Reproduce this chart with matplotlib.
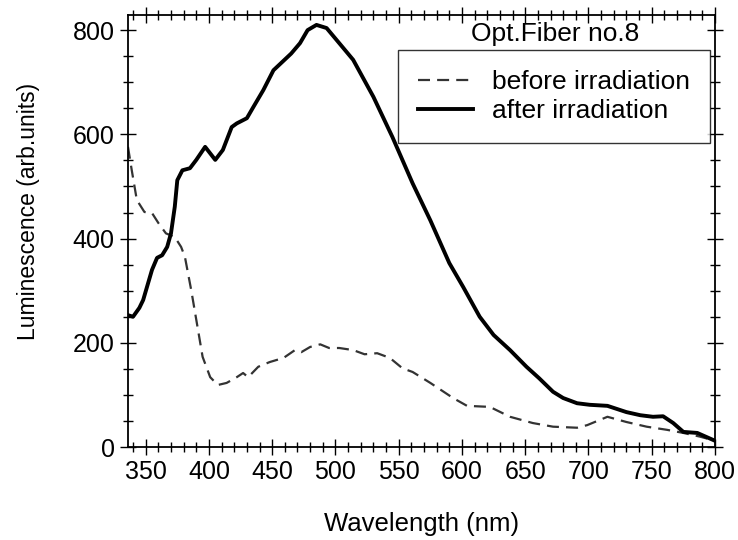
import numpy as np
import matplotlib.pyplot as plt
from matplotlib.ticker import MultipleLocator

plt.rcParams['font.family'] = ['Liberation Sans', 'DejaVu Sans']

# after irradiation (solid)
wl_after = [336, 340, 345, 348, 355, 359, 363, 367, 370, 373, 375, 379, 385, 390,
            397, 405, 411, 418, 422, 430, 435, 443, 451, 458, 465, 472, 478, 485,
            493, 503, 514, 530, 545, 561, 575, 590, 601, 614, 625, 638, 651, 661,
            672, 680, 691, 701, 715, 730, 741, 751, 759, 767, 775, 786, 800]
lum_after = [253, 250, 267, 282, 340, 363, 368, 384, 410, 461, 512, 531, 535, 551,
             576, 551, 570, 614, 621, 631, 652, 685, 723, 739, 755, 775, 800, 810,
             804, 775, 743, 672, 595, 506, 435, 353, 307, 250, 215, 186, 154, 132,
             106, 94, 84, 81, 79, 67, 61, 58, 59, 46, 29, 27, 12]

# before irradiation (dashed)
wl_before = [336, 339, 343, 349, 355, 360, 366, 373, 378, 381, 386, 391, 395, 401,
             407, 414, 422, 427, 431, 439, 448, 459, 468, 473, 480, 488, 495, 503,
             514, 523, 533, 543, 553, 561, 575, 593, 604, 622, 638, 656, 672, 691,
             699, 715, 730, 746, 762, 775, 788, 800]
lum_before = [576, 531, 474, 451, 449, 430, 410, 403, 384, 365, 301, 230, 173, 134,
              119, 123, 134, 142, 134, 154, 163, 171, 186, 182, 192, 197, 190, 190,
              186, 178, 180, 171, 151, 144, 123, 94, 79, 77, 58, 46, 39, 37,
              42, 58, 48, 39, 33, 27, 20, 12]

fig = plt.figure(figsize=(7.38, 5.4), dpi=100)
ax = fig.add_axes([0.1734, 0.1722, 0.7954, 0.80])

ax.plot(wl_before, lum_before, color='#333333', lw=1.6, ls=(0, (5.4, 3.2)),
        label='before irradiation')
ax.plot(wl_after, lum_after, color='black', lw=2.8, label='after irradiation')

ax.set_xlim(336, 800)
ax.set_ylim(0, 829)
ax.xaxis.set_major_locator(MultipleLocator(50))
ax.xaxis.set_minor_locator(MultipleLocator(10))
ax.yaxis.set_major_locator(MultipleLocator(200))
ax.yaxis.set_minor_locator(MultipleLocator(50))
ax.tick_params(which='both', direction='inout', top=True, right=True,
               labelsize=18, width=1)
ax.tick_params(which='major', length=11, pad=4)
ax.tick_params(which='minor', length=7)
for s in ax.spines.values():
    s.set_linewidth(1.3)

ax.set_xlabel('Wavelength (nm)', fontsize=18.5, labelpad=20)
ax.set_ylabel('Luminescence (arb.units)', fontsize=16.5)
ax.yaxis.set_label_coords(-0.15, 0.546)

ax.text(0.727, 0.957, 'Opt.Fiber no.8', transform=ax.transAxes, fontsize=19,
        ha='center', va='center')
leg = ax.legend(loc='upper right', bbox_to_anchor=(0.991, 0.919), fontsize=19,
                frameon=True, fancybox=False, edgecolor='black',
                handlelength=2.1, handletextpad=0.7, borderpad=0.75,
                labelspacing=0.2, borderaxespad=0)
leg.get_frame().set_linewidth(1)

fig.savefig('out.png', dpi=100)
